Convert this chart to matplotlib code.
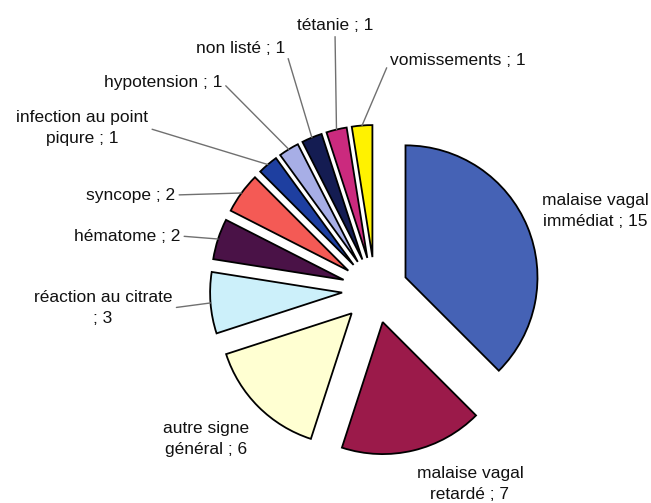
import numpy as np
import matplotlib
matplotlib.use("Agg")
from matplotlib import pyplot as plt

plt.rcParams["font.family"] = ["Liberation Sans", "DejaVu Sans"]

#----------------------------------------- DATA -----------------------------------------#
categories = ["malaise vagal\nimmédiat", "malaise vagal\nretardé", "autre signe\ngénéral",
              "réaction au citrate\n", "hématome", "syncope", "infection au point\npiqure",
              "hypotension", "non listé", "tétanie", "vomissements"]
counts = [15, 7, 6, 3, 2, 2, 1, 1, 1, 1, 1]
colors = ["#4562B5", "#9B1A4A", "#FFFFD2", "#CCF0FA", "#4A1247", "#F45A55",
          "#1E3FA0", "#A7AEE6", "#141C52", "#CB2A7E", "#FFF200"]

#----------------------------------------- LAYOUT (pixels, y from top) -----------------------------------------#
W, H = 651, 503
CX, CY = 375, 290
R = 132
EXPLODE = 33

# label anchor: x, y, ha, relpos of the leader line (None = no leader)
label_pos = [
    (595, 211, "center", None),
    (470, 484, "center", None),
    (206, 439, "center", None),
    (103, 308, "center", (1, 0.5)),
    (180, 236, "right", (1, 0.5)),
    (175, 195, "right", (1, 0.5)),
    (82, 128, "center", (1, 0.5)),
    (222, 82, "right", (1, 0.5)),
    (285, 48, "right", (1, 0.5)),
    (335, 25, "center", (0.5, 0)),
    (390, 60, "left", (0, 0.5)),
]

fig = plt.figure(figsize=(W / 100, H / 100), dpi=100)
ax = fig.add_axes([0, 0, 1, 1])

wedges, _ = ax.pie(counts, colors=colors, startangle=90, counterclock=False,
                   radius=R, center=(CX, H - CY), explode=[EXPLODE] * len(counts),
                   wedgeprops=dict(edgecolor="black", linewidth=1.3))

ax.set_xlim(0, W)
ax.set_ylim(0, H)
ax.set_aspect("equal")
ax.axis("off")

for w, cat, n, (tx, ty, ha, rel) in zip(wedges, categories, counts, label_pos):
    text = f"{cat} ; {n}".replace("\n ;", "\n;")
    mid = np.deg2rad((w.theta1 + w.theta2) / 2)
    px = w.center[0] + w.r * np.cos(mid)
    py = w.center[1] + w.r * np.sin(mid)
    props = None
    if rel is not None:
        props = dict(arrowstyle="-", color="#707070", lw=1.0, relpos=rel,
                     shrinkA=1, shrinkB=0)
    ax.annotate(text, xy=(px, py), xytext=(tx, H - ty), ha=ha, va="center",
                multialignment="center", linespacing=1.5, fontsize=12.5,
                color="#111111", arrowprops=props)

fig.savefig("out.png", dpi=100, facecolor="white")
